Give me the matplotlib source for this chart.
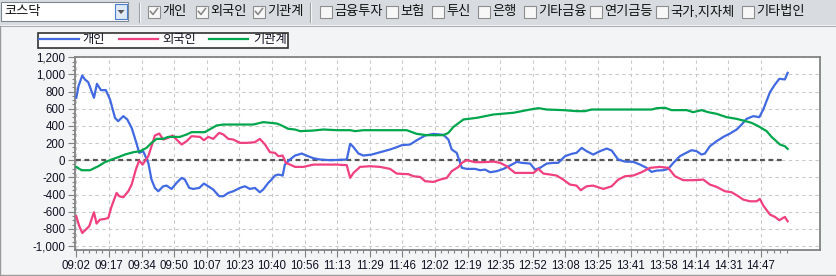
import matplotlib
matplotlib.use("Agg")
import matplotlib.pyplot as plt
from matplotlib.patches import Rectangle, Polygon
from matplotlib.lines import Line2D
from matplotlib.ticker import MultipleLocator, FixedLocator, FuncFormatter
from matplotlib.transforms import Affine2D

plt.rcParams['font.family'] = ['Liberation Sans', 'Noto Sans CJK KR']

# x = minutes after 09:00
blue_x = [2, 3.1, 5, 6.3, 8, 10.9, 12.4, 14.4, 16.9, 19,
          21.5, 23.1, 25.7, 27.7, 29.9, 32, 33.7, 35.7, 38.3, 39.9,
          41.6, 43.3, 45.8, 47.5, 50, 52.5, 55.1, 56.7, 58.9, 60.9,
          64, 66.3, 68.5, 71, 74, 76.1, 78.6, 81.1, 84.5, 87,
          89.5, 92, 94.5, 96.2, 98.7, 100.4, 102.1, 103.8, 106, 107.1,
          109.7, 112.2, 115.6, 118, 121.5, 124.9, 129.9, 138.3, 140, 141.3,
          144.2, 146.7, 150.9, 155.1, 160.1, 163.5, 166, 170.2, 173.6, 177.8,
          182, 187, 189.5, 191.2, 193.7, 196.3, 198.8, 203, 205.5, 208,
          210.5, 213.9, 217.3, 220.6, 224, 226.5, 230.7, 233.2, 235.7, 239.1,
          242.5, 244.9, 248.3, 251.6, 254.1, 256.7, 259.2, 262.5, 265.9, 269.3,
          271.8, 275.1, 278.5, 282.7, 286.1, 289.4, 291.9, 294.5, 297.8, 300.3,
          302.9, 306.2, 308.7, 312.1, 314.6, 317.1, 318.8, 321.3, 324.7, 328.1,
          331.4, 334.8, 337.3, 339.8, 343.2, 346.2, 348.2, 351.6, 354.1, 356.3,
          359.1, 360.5]
blue_v = [728, 864, 988, 942, 910, 728, 891, 817, 817, 708,
          494, 455, 514, 475, 377, 222, 86, 105, -31, -226,
          -323, -362, -304, -296, -335, -265, -206, -226, -323, -335,
          -323, -272, -304, -342, -420, -420, -381, -362, -323, -304,
          -335, -323, -374, -342, -265, -226, -179, -167, -179, -51,
          8, 54, 78, 54, 23, 8, 0, 8, 191, 163,
          78, 54, 66, 93, 125, 152, 175, 183, 233, 288,
          307, 296, 241, 125, 86, -89, -101, -101, -117, -109,
          -140, -128, -101, -62, -19, -31, -39, -109, -89, -39,
          -31, -31, 47, 74, 86, 144, 105, 66, 105, 136,
          113, 8, -16, -19, -51, -89, -136, -121, -117, -101,
          -31, 47, 78, 117, 105, 66, 78, 163, 222, 272,
          311, 358, 416, 482, 514, 502, 591, 794, 883, 949,
          942, 1019]

red_x = [2, 3.5, 5, 6.8, 8.5, 10.9, 12.2, 13.9, 16.4, 18.1,
         19.8, 22.3, 23.6, 25.7, 28.2, 29.9, 32, 33.7, 35.4, 38.3,
         39.9, 41.6, 43.8, 45.8, 48.3, 50.5, 52.5, 55.1, 57.6, 60.1,
         64.3, 66.3, 68.5, 71, 74, 76.1, 78.6, 81.1, 84.5, 87.8,
         92, 94.5, 97.1, 99.6, 102.1, 103.8, 106, 107.6, 109.7, 112.3,
         116.5, 121.5, 128.2, 133.3, 138.3, 140, 141.7, 145, 150.1, 155.1,
         160.1, 163.5, 169.4, 171.9, 175.3, 177.8, 182, 185.3, 188.7, 191.2,
         194.6, 196.3, 198.8, 203, 207.2, 212.2, 215.6, 218.9, 223.1, 227.3,
         232.4, 234.9, 237.4, 240.8, 244.1, 247.4, 250.8, 254.1, 256.2, 259.2,
         262.5, 267.6, 271.8, 275.1, 278.5, 282.7, 286.9, 291.1, 296.1, 300.3,
         303.7, 307.9, 313, 318, 321.3, 324.7, 328.9, 332.3, 335.6, 338.1,
         341.5, 344.9, 346.5, 348.2, 351.6, 354.1, 356.3, 359.1, 360.5]
red_v = [-654, -770, -848, -809, -770, -607, -739, -693, -685, -673,
         -537, -381, -420, -432, -362, -284, -109, -4, -51, 47,
         163, 288, 311, 241, 261, 288, 241, 183, 222, 280,
         272, 233, 272, 249, 319, 300, 249, 241, 202, 202,
         210, 249, 183, 93, 86, 47, 54, -31, -51, -78,
         -78, -51, -51, -51, -58, -206, -148, -78, -70, -78,
         -101, -156, -163, -187, -195, -245, -253, -226, -206, -128,
         -78, -31, 0, -23, -23, -16, -31, -70, -148, -148,
         -148, -101, -156, -167, -179, -226, -284, -296, -350, -304,
         -296, -335, -304, -226, -187, -179, -140, -89, -78, -89,
         -187, -233, -233, -226, -284, -311, -362, -374, -420, -459,
         -479, -479, -451, -529, -634, -661, -700, -661, -712]

green_x = [2, 4.7, 8.9, 13.1, 16.4, 19.8, 23.1, 26.5, 30.7, 34.1,
           37.4, 39.9, 42.5, 45.8, 48.3, 54.2, 57.6, 60.1, 66.8, 68.5,
           72.7, 76.1, 91.2, 96.2, 103, 105.5, 108.8, 112.2, 114.8, 121.5,
           126.5, 133.3, 140, 142.5, 146.7, 168.5, 173.6, 178.6, 187, 189.5,
           192.1, 197.1, 203.8, 212.2, 222.3, 230.7, 234.9, 239.1, 247.4, 254.1,
           258.3, 261.7, 270.9, 292, 294.5, 298.7, 302, 309.6, 312.9, 317.1,
           320.5, 324.7, 329.7, 334.8, 338.1, 342.3, 345.7, 349.9, 352.4, 356.6,
           359.1, 360.5]
green_v = [-78, -117, -117, -70, -23, 8, 35, 66, 93, 105,
           144, 202, 249, 249, 272, 272, 300, 327, 327, 350,
           405, 416, 416, 444, 428, 405, 366, 358, 339, 346,
           358, 350, 350, 339, 350, 350, 307, 292, 292, 319,
           389, 475, 494, 533, 553, 591, 607, 591, 584, 572,
           572, 591, 591, 591, 607, 611, 584, 584, 560, 584,
           560, 541, 502, 482, 463, 436, 397, 339, 272, 183,
           163, 132]

tick_labels = ['09:02', '09:17', '09:34', '09:50', '10:07', '10:23', '10:40', '10:56',
               '11:13', '11:29', '11:46', '12:02', '12:19', '12:35', '12:52', '13:08',
               '13:25', '13:41', '13:58', '14:14', '14:31', '14:47']
series_names = ['개인', '외국인', '기관계']
series_colors = ['#4169e1', '#f0407f', '#00a64c']
options = ['개인', '외국인', '기관계', '금융투자', '보험', '투신', '은행',
           '기타금융', '연기금등', '국가,지자체', '기타법인']
checked = [True, True, True, False, False, False, False, False, False, False, False]

W, H = 837, 276
fig = plt.figure(figsize=(W / 100, H / 100), dpi=100)
fig.patch.set_facecolor('#f3f4f6')
# pixel coords, y going down
pxt = Affine2D().scale(1 / W, -1 / H).translate(0, 1) + fig.transFigure

# toolbar
fig.patches.append(Rectangle((0, 0), W, 25, transform=pxt, facecolor='#d8dce1', edgecolor='none'))
fig.lines.append(Line2D([0, W], [25.5, 25.5], transform=pxt, color='#a9adb2', lw=0.8))
fig.lines.append(Line2D([0.5, 0.5], [26, 274], transform=pxt, color='#9a9a9a', lw=1))
fig.lines.append(Line2D([0, W], [274.5, 274.5], transform=pxt, color='#9a9a9a', lw=1))

fig.patches.append(Rectangle((1, 2), 127, 19, transform=pxt, facecolor='white', edgecolor='#7d8894', lw=0.8))
fig.text(4, 12, '코스닥', transform=pxt, fontsize=9.5, va='center', family=['Noto Sans CJK KR'], color='#111111')
fig.patches.append(Rectangle((115, 4), 12, 15, transform=pxt, facecolor='#dfe9f6', edgecolor='#4a7fd0', lw=0.8))
fig.patches.append(Polygon([(117.5, 10), (124.5, 10), (121, 14)], closed=True, transform=pxt,
                           facecolor='#555555', edgecolor='none'))
for sx in [139, 310]:
    fig.lines.append(Line2D([sx, sx], [3, 22], transform=pxt, color='#9a9ea3', lw=0.8))
    fig.lines.append(Line2D([sx + 1, sx + 1], [3, 22], transform=pxt, color='#f5f5f5', lw=0.8))

box_x = [148, 196, 253, 320, 386, 432, 478, 524, 590, 656, 742]
for bx, name, on in zip(box_x, options, checked):
    fig.patches.append(Rectangle((bx, 6), 12, 12, transform=pxt, facecolor='#f7f7f7',
                                 edgecolor='#8e8e8e', lw=0.8))
    if on:
        fig.lines.append(Line2D([bx + 2.5, bx + 5, bx + 9.5], [11.5, 14.5, 8.5], transform=pxt,
                                color='#8a8a8a', lw=1.2))
    fig.text(bx + 14, 12, name, transform=pxt, fontsize=9.5, va='center', color='#111111')

# chart
ax = fig.add_axes([75 / W, 1 - 250 / H, 745 / W, (250 - 57.3) / H])
ax.set_facecolor('white')

step = 16.43
ticks = [2 + i * step for i in range(len(tick_labels))]

for xs, vs, name, c in zip([blue_x, red_x, green_x], [blue_v, red_v, green_v], series_names, series_colors):
    ax.plot(xs, vs, color=c, lw=1.6, label=name, zorder=3)

ax.hlines(0, min(blue_x), max(blue_x) - 1.5, colors='#555555', linestyles=(0, (2.2, 1.6)), lw=1.6, zorder=2)

ax.set_xlim(1.34, 376.8)
ax.set_ylim(-1047, 1200)
ax.xaxis.set_major_locator(FixedLocator(ticks))
ax.set_xticklabels(tick_labels)
ax.xaxis.set_minor_locator(FixedLocator([2 + i * step / 5 for i in range(110)]))
ax.yaxis.set_major_locator(MultipleLocator(200))
ax.yaxis.set_minor_locator(MultipleLocator(50))
ax.yaxis.set_major_formatter(FuncFormatter(lambda v, p: f'{int(v):,}'))

ax.grid(True, which='major', ls=(0, (3, 3)), color='#c9c9c9', lw=0.8, zorder=0)
for s in ax.spines.values():
    s.set_color('#828282')
    s.set_linewidth(1.3)
ax.tick_params(which='major', direction='out', length=5, width=0.8, color='#828282',
               labelsize=8.3, labelcolor='#111122', pad=2)
ax.tick_params(which='minor', direction='out', length=2.5, width=0.8, color='#828282')

leg = ax.legend(loc='upper left', bbox_to_anchor=(38 / W, 1 - 33 / H), bbox_transform=fig.transFigure,
                ncol=3, frameon=True, fancybox=False, fontsize=8.8, handlelength=3.2,
                handletextpad=0.35, columnspacing=1.1, borderpad=0.12, borderaxespad=0)
leg.get_frame().set_edgecolor('black')
leg.get_frame().set_linewidth(1.2)
for t in leg.get_texts():
    t.set_color('#111122')

fig.savefig('out.png', dpi=100, facecolor=fig.get_facecolor())
